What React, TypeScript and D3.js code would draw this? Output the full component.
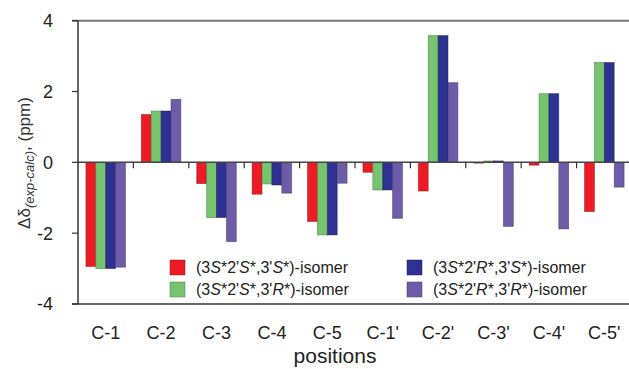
import { useEffect, useRef } from 'react';
import * as d3 from 'd3';

const positions = ['C-1', 'C-2', 'C-3', 'C-4', 'C-5', "C-1'", "C-2'", "C-3'", "C-4'", "C-5'"];
const seriesKeys = ['SSS', 'SSR', 'SRS', 'SRR'];
const ssS = [-2.94, 1.35, -0.6, -0.9, -1.67, -0.28, -0.81, 0.0, -0.08, -1.39];
const ssR = [-3.0, 1.45, -1.56, -0.61, -2.05, -0.78, 3.58, 0.04, 1.94, 2.82];
const srS = [-3.0, 1.45, -1.56, -0.64, -2.05, -0.78, 3.58, 0.04, 1.94, 2.82];
const srR = [-2.96, 1.78, -2.24, -0.87, -0.59, -1.58, 2.25, -1.81, -1.88, -0.7];
const yTicks = [-4, -2, 0, 2, 4];
const colors = ['#ed1c24', '#76c56e', '#2e3192', '#6e5ca9'];
const strokes = ['#8a1a1a', '#4a7a44', '#1d1f5e', '#44386e'];

const App = () => {
    const ref = useRef<SVGSVGElement>(null);

    useEffect(() => {
        if (!ref.current) return;
        const width = 629;
        const height = 369;
        const svg = d3.select(ref.current).attr('width', width).attr('height', height);
        svg.selectAll('*').remove();

        const left = 78;
        const right = 632;
        const y = d3.scaleLinear().domain([-4, 4]).range([304, 20.7]);
        const x0 = d3.scaleBand().domain(positions).range([left, right]);
        const x1 = d3.scaleBand().domain(seriesKeys).range([0, x0.bandwidth()]).paddingOuter(0.8);
        const values = [ssS, ssR, srS, srR];

        // bars
        const g = svg.append('g');
        positions.forEach((p, i) => {
            seriesKeys.forEach((k, j) => {
                const v = values[j][i];
                g.append('rect')
                    .attr('x', x0(p)! + x1(k)!)
                    .attr('y', y(Math.max(0, v)))
                    .attr('width', x1.bandwidth())
                    .attr('height', Math.max(0.8, Math.abs(y(v) - y(0))))
                    .attr('fill', colors[j])
                    .attr('stroke', strokes[j])
                    .attr('stroke-opacity', 0.6)
                    .attr('stroke-width', 0.8);
            });
        });

        // frame lines
        svg.append('line').attr('x1', left - 6).attr('x2', width).attr('y1', y(4)).attr('y2', y(4))
            .attr('stroke', '#777').attr('stroke-width', 2);
        svg.append('line').attr('x1', left - 6).attr('x2', width).attr('y1', y(-4)).attr('y2', y(-4))
            .attr('stroke', '#333').attr('stroke-width', 1.5);
        svg.append('line').attr('x1', left).attr('x2', width).attr('y1', y(0)).attr('y2', y(0))
            .attr('stroke', '#444').attr('stroke-width', 1.5);
        svg.append('line').attr('x1', left).attr('x2', left).attr('y1', y(4)).attr('y2', y(-4))
            .attr('stroke', '#333').attr('stroke-width', 1.5);

        // category separator ticks on zero line
        svg.append('g').selectAll('line').data(positions.slice(1)).join('line')
            .attr('x1', d => x0(d)!).attr('x2', d => x0(d)!)
            .attr('y1', y(0)).attr('y2', y(0) + 6)
            .attr('stroke', '#333').attr('stroke-width', 1.2);

        // y ticks
        const yg = svg.append('g');
        yg.selectAll('line').data(yTicks).join('line')
            .attr('x1', left - 6).attr('x2', left).attr('y1', d => y(d)).attr('y2', d => y(d))
            .attr('stroke', '#333').attr('stroke-width', 1.2);
        yg.selectAll('text').data(yTicks).join('text')
            .attr('x', 53).attr('y', d => y(d)).attr('dy', '0.36em')
            .attr('text-anchor', 'end')
            .attr('font-family', 'Liberation Sans, Arial, sans-serif').attr('font-size', 18)
            .attr('fill', '#222')
            .text(d => String(d));

        // x labels
        svg.append('g').selectAll('text').data(positions).join('text')
            .attr('x', d => x0(d)! + x0.bandwidth() / 2).attr('y', 339)
            .attr('text-anchor', 'middle')
            .attr('font-family', 'Liberation Sans, Arial, sans-serif').attr('font-size', 18)
            .attr('fill', '#222')
            .text(d => d);

        svg.append('text').attr('x', 335).attr('y', 363).attr('text-anchor', 'middle')
            .attr('font-family', 'Liberation Sans, Arial, sans-serif').attr('font-size', 21)
            .attr('fill', '#222').text('positions');

        // y title
        const yt = svg.append('text')
            .attr('transform', 'translate(30,163) rotate(-90)')
            .attr('text-anchor', 'middle')
            .attr('font-family', 'Liberation Sans, Arial, sans-serif').attr('font-size', 17)
            .attr('fill', '#333');
        yt.append('tspan').text('Δδ');
        yt.append('tspan').attr('font-size', 13).attr('font-style', 'italic').attr('dy', 4).text('(exp-calc)');
        yt.append('tspan').attr('dy', -4).text(', (ppm)');

        // legend
        const legendItems = [
            { x: 170, y: 260, parts: ['(3', 'S', '*2\'', 'S', '*,3\'', 'S', '*)-isomer'] },
            { x: 170, y: 282, parts: ['(3', 'S', '*2\'', 'S', '*,3\'', 'R', '*)-isomer'] },
            { x: 407, y: 260, parts: ['(3', 'S', '*2\'', 'R', '*,3\'', 'S', '*)-isomer'] },
            { x: 407, y: 282, parts: ['(3', 'S', '*2\'', 'R', '*,3\'', 'R', '*)-isomer'] },
        ];
        legendItems.forEach((it, i) => {
            svg.append('rect').attr('x', it.x).attr('y', it.y).attr('width', 15).attr('height', 15)
                .attr('fill', colors[i]).attr('stroke', strokes[i]).attr('stroke-opacity', 0.6).attr('stroke-width', 0.8);
            const t = svg.append('text').attr('x', it.x + 26).attr('y', it.y + 13)
                .attr('font-family', 'Liberation Sans, Arial, sans-serif').attr('font-size', 16)
                .attr('fill', '#222');
            it.parts.forEach((s, k) => {
                t.append('tspan').attr('font-style', k % 2 === 1 ? 'italic' : 'normal').text(s);
            });
        });
    }, []);

    return <svg ref={ref} style={{ position: 'absolute', left: 0, top: 0 }} />;
};

export default App;
